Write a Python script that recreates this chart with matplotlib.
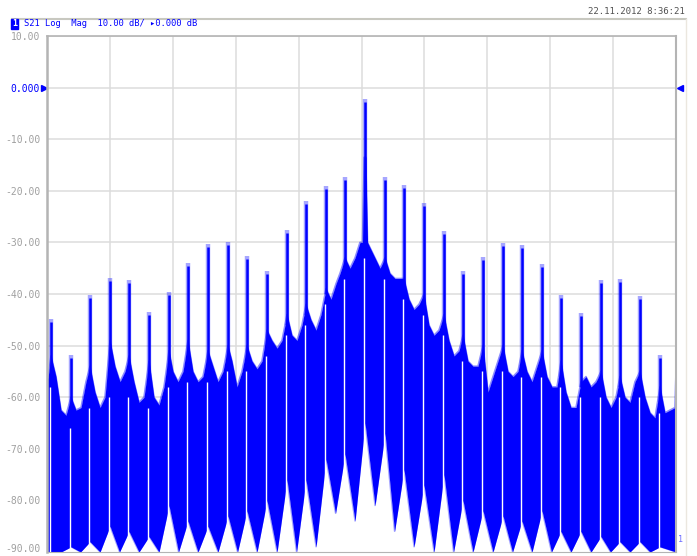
import matplotlib
matplotlib.use('Agg')
import matplotlib.pyplot as plt
from matplotlib.transforms import ScaledTranslation

# ---- trace data (x in grid divisions 0..10, y in dB) ----
# spur peaks
peak_x = [0.064, 0.382, 0.684, 1.002, 1.304, 1.622, 1.940, 2.242, 2.560, 2.878,
          3.180, 3.498, 3.816, 4.118, 4.436, 4.738, 5.056, 5.374, 5.676, 5.994,
          6.312, 6.614, 6.932, 7.250, 7.552, 7.870, 8.172, 8.490, 8.808, 9.110,
          9.428, 9.746]
peak_db = [-45.4, -52.4, -40.8, -37.5, -37.9, -44.1, -40.2, -34.6, -30.9, -30.5,
           -33.2, -36.1, -28.2, -22.6, -19.7, -17.9, -2.8, -17.9, -19.5, -22.9,
           -28.4, -36.1, -33.4, -30.7, -31.1, -34.8, -40.8, -44.3, -37.9, -37.7,
           -41.0, -52.4]
# top of the white gap that runs down beside each spur
gap_top_db = [-58, -66, -62, -60, -60, -62, -58, -57, -57, -55,
              -55, -52, -48, -46, -42, -37, -33, -37, -41, -44,
              -48, -53, -55, -55, -56, -56, -58, -60, -60, -60,
              -60, -63]

# upper edge of the noise band
noise_x = [0.000, 0.032, 0.064, 0.143, 0.223, 0.302, 0.382, 0.461, 0.541, 0.620,
           0.684, 0.763, 0.843, 0.922, 1.002, 1.081, 1.161, 1.240, 1.304, 1.383,
           1.463, 1.542, 1.622, 1.701, 1.781, 1.860, 1.940, 2.003, 2.083, 2.162,
           2.242, 2.321, 2.401, 2.480, 2.560, 2.639, 2.719, 2.798, 2.878, 2.941,
           3.021, 3.100, 3.180, 3.259, 3.339, 3.418, 3.498, 3.577, 3.657, 3.736,
           3.816, 3.895, 3.975, 4.054, 4.118, 4.197, 4.277, 4.356, 4.436, 4.515,
           4.595, 4.658, 4.738, 4.817, 4.897, 4.976, 5.016, 5.032, 5.044, 5.068,
           5.080, 5.096, 5.135, 5.215, 5.294, 5.374, 5.453, 5.533, 5.612, 5.676,
           5.755, 5.835, 5.914, 5.994, 6.073, 6.153, 6.232, 6.312, 6.391, 6.471,
           6.550, 6.614, 6.693, 6.773, 6.852, 6.932, 7.011, 7.091, 7.170, 7.250,
           7.329, 7.409, 7.488, 7.552, 7.631, 7.711, 7.790, 7.870, 7.949, 8.029,
           8.108, 8.172, 8.251, 8.331, 8.410, 8.490, 8.569, 8.649, 8.728, 8.808,
           8.887, 8.967, 9.046, 9.110, 9.189, 9.269, 9.348, 9.428, 9.507, 9.587,
           9.666, 9.746, 9.825, 9.905, 9.984, 10.000]
noise_top = [-57, -55, -52, -56, -62.5, -63.5, -60, -62.5, -62, -57,
             -54, -59, -62, -60, -49, -54, -57, -55, -52, -57,
             -61, -60, -53, -60, -61.5, -58, -51, -55, -57, -55,
             -49, -55, -57, -56, -51, -54, -57, -55, -50, -53,
             -58, -55, -50, -53, -54.5, -53, -47, -49, -50.5, -49,
             -44, -48, -49, -46, -42, -45, -47, -44, -39, -41,
             -38, -36, -33, -35, -33, -30, -30, -21, -13.5, -13.5,
             -21, -30, -31, -33, -35, -33, -36, -37, -37, -37,
             -41, -43, -42, -40, -46, -48, -47, -44, -49, -52,
             -51, -48, -53, -54, -54, -50, -59, -56, -53, -50,
             -55, -56, -55, -51, -55, -57, -54, -51, -56, -58,
             -58, -53, -59, -62, -62, -57, -56, -58, -57, -55,
             -60, -62, -60, -56, -60, -61, -57, -55, -60, -63,
             -64, -58, -63, -62.5, -62, -55]

# lower edge of the noise band (notch at each spur, V tip between spurs)
floor_x = [0.000, 0.064, 0.223, 0.382, 0.533, 0.684, 0.843, 1.002, 1.153, 1.304,
           1.463, 1.622, 1.781, 1.940, 2.091, 2.242, 2.401, 2.560, 2.719, 2.878,
           3.029, 3.180, 3.339, 3.498, 3.657, 3.816, 3.967, 4.118, 4.277, 4.436,
           4.587, 4.738, 4.897, 5.056, 5.215, 5.374, 5.525, 5.676, 5.835, 5.994,
           6.153, 6.312, 6.463, 6.614, 6.773, 6.932, 7.091, 7.250, 7.401, 7.552,
           7.711, 7.870, 8.021, 8.172, 8.331, 8.490, 8.649, 8.808, 8.959, 9.110,
           9.269, 9.428, 9.587, 9.746, 10.000]
floor_db = [-90, -90, -90, -89, -90, -88, -90, -85, -90, -86,
            -90, -87, -90, -81, -90, -84, -90, -85, -90, -83,
            -90, -82, -90, -80, -90, -76, -90, -76, -89, -72,
            -82.5, -71, -84, -65, -81, -67, -86, -74, -89, -77,
            -90, -75, -90, -80, -90, -82, -90, -83, -90, -84,
            -90, -82, -90, -86, -90, -86, -90, -87, -90, -88,
            -90, -88, -90, -89, -90]

y_ticks = [10, 0, -10, -20, -30, -40, -50, -60, -70, -80, -90]
y_labels = ['10.00', '0.000', '-10.00', '-20.00', '-30.00', '-40.00',
            '-50.00', '-60.00', '-70.00', '-80.00', '-90.00']

W, H = 697, 556
BLUE = '#0000ff'

fig = plt.figure(figsize=(W / 100, H / 100), dpi=100)
fig.patch.set_facecolor('white')
ax = fig.add_axes([47 / W, 4 / H, 629 / W, 516 / H])
ax.set_xlim(0, 10)
ax.set_ylim(-90, 10)

# grid
ax.set_xticks(range(0, 11))
ax.set_yticks(y_ticks)
ax.grid(True, color='#dcdcdc', lw=1.1)
ax.set_axisbelow(True)
ax.tick_params(length=0, labelbottom=False)
ax.set_yticklabels(y_labels, family='DejaVu Sans Mono', fontsize=7, color='#a0a0a0')
ax.tick_params(axis='y', pad=5)
ax.get_yticklabels()[1].set_color(BLUE)
# bottom label sits on the image edge; lift it a little
lab = ax.get_yticklabels()[-1]
lab.set_transform(lab.get_transform() + ScaledTranslation(0, 3 / 72, fig.dpi_scale_trans))
for side in ['left', 'top', 'right', 'bottom']:
    ax.spines[side].set_color('#b4b4b4')
ax.spines['left'].set_linewidth(1.8)
ax.spines['top'].set_linewidth(1.2)
ax.spines['right'].set_linewidth(1.5)

# noise band
ax.fill_between(noise_x, [-90] * len(noise_x), noise_top, color=BLUE, lw=0)
ax.plot(noise_x, noise_top, color=BLUE, lw=1.2, alpha=0.45)
ax.fill_between(floor_x, [-90] * len(floor_x), floor_db, color='white', lw=0)
ax.plot(floor_x, floor_db, color=BLUE, lw=1.0, alpha=0.35)

# white gaps next to the spurs
for x, g in zip(peak_x, gap_top_db):
    ax.plot([x - 0.022, x - 0.022], [-90, g], color='white', lw=1.0, solid_capstyle='butt')

# spurs
for x, p, g in zip(peak_x, peak_db, gap_top_db):
    ax.plot([x, x], [g + 2, p + 0.6], color=BLUE, lw=3.2, alpha=0.35, solid_capstyle='butt')
    ax.plot([x, x], [g + 2, p], color=BLUE, lw=1.8, solid_capstyle='butt')

# reference level markers
ax.plot([-0.05], [0], marker='>', color=BLUE, ms=5, clip_on=False)
ax.plot([10.07], [0], marker='<', color=BLUE, ms=5, clip_on=False)

# header
fig.add_artist(plt.Line2D([12 / W, 686 / W], [1 - 19 / H, 1 - 19 / H], color='#c8c8c0', lw=1.5))
fig.add_artist(plt.Line2D([686 / W, 686 / W], [0, 1 - 19 / H], color='#ebe7df', lw=1.0))
fig.text(12 / W, 1 - 24 / H, '1', fontsize=6, color='white', family='DejaVu Sans Mono',
         va='center', ha='left', fontweight='bold',
         bbox=dict(boxstyle='square,pad=0.1', fc=BLUE, ec=BLUE))
fig.text(24 / W, 1 - 24 / H, 'S21 Log  Mag  10.00 dB/ \u25b80.000 dB', fontsize=6.3,
         color=BLUE, family='DejaVu Sans Mono', va='center', ha='left')
fig.text(685 / W, 1 - 11 / H, '22.11.2012 8:36:21', fontsize=6.5, color='#505050',
         family='DejaVu Sans Mono', va='center', ha='right')
fig.text(678 / W, 1 - 540 / H, '1', fontsize=6, color='#6b6bff',
         family='DejaVu Sans Mono', va='center', ha='left')

fig.savefig('out.png', dpi=100)
